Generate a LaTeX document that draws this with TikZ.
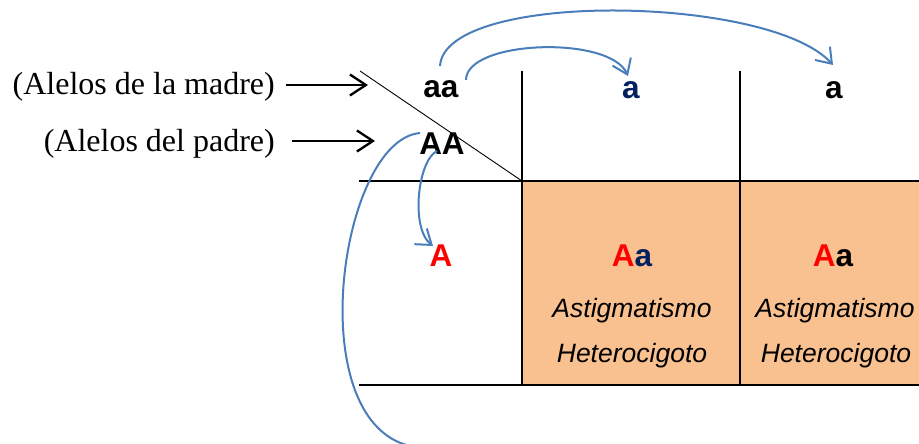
\documentclass[tikz,border=0pt]{standalone}
\usepackage{fontspec}
\setmainfont{Liberation Serif}
\setsansfont{Liberation Sans}
\usetikzlibrary{arrows.meta}
\definecolor{cellorange}{HTML}{F9C090}
\definecolor{curveblue}{HTML}{4A7EBB}
\definecolor{navyA}{HTML}{002060}
\definecolor{redA}{HTML}{FF0000}
\tikzset{
  gridline/.style={line width=1.8pt, black},
  allele/.style={font=\sffamily\bfseries\fontsize{31.5}{32}\selectfont, inner sep=0pt, anchor=base},
  desc/.style={font=\sffamily\itshape\fontsize{26.5}{27}\selectfont, inner sep=0pt, anchor=base},
  lbl/.style={font=\rmfamily\fontsize{32}{33}\selectfont, inner sep=0pt, anchor=base east},
  blackarrow/.style={line width=2.3pt, -{Straight Barb[length=16pt,width=21pt,line width=2.3pt]}},
  bluecurve/.style={line width=2pt, curveblue},
  bluearrow/.style={bluecurve, -{Straight Barb[length=14pt,width=20pt,line width=2pt]}}
}
\begin{document}
\begin{tikzpicture}[x=1pt,y=-1pt]
\useasboundingbox (0,0) rectangle (919,444);
% orange cells
\fill[cellorange] (522,181) rectangle (919,385);
% grid
\draw[gridline] (522,71) -- (522,385);
\draw[gridline] (740,71) -- (740,385);
\draw[gridline] (359,181) -- (919,181);
\draw[gridline] (359,385) -- (919,385);
\draw[line width=0.9pt] (360,71) -- (522,181);
% texts
\node[allele] (mom) at (441,98) {aa};
\node[allele] (dad) at (442,154) {AA};
\node[allele, text=navyA] (m1) at (631,99) {a};
\node[allele] (m2) at (834,99) {a};
\node[allele, text=redA] (d1) at (441,266) {A};
\node[allele] (g1) at (632,266) {\textcolor{redA}{A}\textcolor{navyA}{a}};
\node[allele] (g2) at (833,266) {\textcolor{redA}{A}a};
\node[desc] (t1) at (632,317) {Astigmatismo};
\node[desc] (h1) at (632,362) {Heterocigoto};
\node[desc] (t2) at (835,317) {Astigmatismo};
\node[desc] (h2) at (836,362) {Heterocigoto};
\node[lbl] (lm) at (275,95) {(Alelos de la madre)};
\node[lbl] (lp) at (275,151) {(Alelos del padre)};
% black arrows
\coordinate (am) at (368,85);
\coordinate (ap) at (375,141);
\draw[blackarrow] (lm.east |- am) ++(11,0) -- (am);
\draw[blackarrow] (lp.east |- ap) ++(17,0) -- (ap);
% blue curves
\coordinate (c1s) at (440,66);
\coordinate (c1e) at (833,65);
\coordinate (c2s) at (466,80);
\coordinate (c2e) at (628,76);
\coordinate (c3s) at (437,151);
\coordinate (c3e) at (433,246);
\coordinate (c4s) at (420,133);
\coordinate (c4e) at (410,446);
\draw[bluearrow] (c1s) .. controls (445,-10) and (770,-5) .. (c1e);
\draw[bluearrow] (c2s) .. controls (466,40) and (610,35) .. (c2e);
\draw[bluearrow] (c3s) .. controls (418,160) and (410,228) .. (c3e);
\draw[bluecurve] (c4s) .. controls (340,140) and (300,420) .. (c4e);
\end{tikzpicture}
\end{document}
